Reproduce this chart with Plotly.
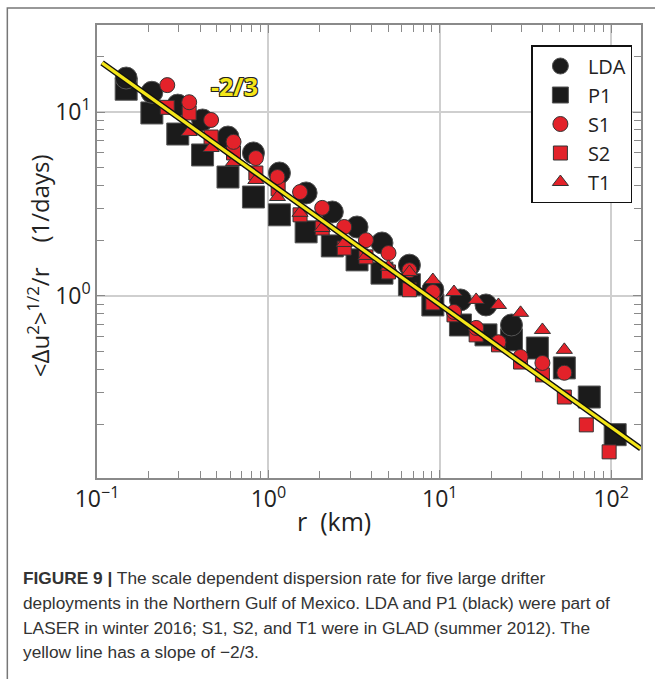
import plotly.graph_objects as go

# ---------------- data ----------------
lda_r = [0.148, 0.209, 0.296, 0.413, 0.581, 0.818, 1.16, 1.66, 2.36, 3.29, 4.60, 6.65, 9.11, 13.2, 18.6, 26.2]
lda_y = [15.3, 12.8, 10.9, 9.05, 7.31, 5.99, 4.66, 3.63, 2.86, 2.37, 1.94, 1.47, 1.08, 0.951, 0.893, 0.695]

p1_r = [0.148, 0.209, 0.296, 0.413, 0.581, 0.818, 1.16, 1.66, 2.36, 3.29, 4.60, 6.65, 9.11, 13.2, 18.6, 26.2, 37.1, 53.3, 74.5, 105.5]
p1_y = [13.3, 9.88, 7.59, 5.84, 4.43, 3.45, 2.76, 2.23, 1.87, 1.57, 1.33, 1.15, 0.893, 0.695, 0.614, 0.577, 0.521, 0.406, 0.282, 0.176]

s1_r = [0.257, 0.345, 0.463, 0.626, 0.845, 1.13, 1.53, 2.06, 2.77, 3.71, 5.02, 6.65, 9.11, 12.1, 16.3, 22.0, 29.6, 39.7, 53.3]
s1_y = [14.0, 11.3, 9.05, 6.88, 5.62, 4.43, 3.67, 3.01, 2.37, 2.01, 1.71, 1.38, 1.05, 0.818, 0.670, 0.56, 0.466, 0.432, 0.382]

s2_r = [0.257, 0.345, 0.463, 0.626, 0.845, 1.14, 1.53, 2.06, 2.77, 3.71, 5.02, 6.65, 9.11, 12.1, 16.3, 22.0, 29.6, 39.7, 53.3, 71.6, 97.3]
s2_y = [10.6, 9.88, 7.31, 5.99, 4.66, 3.82, 2.76, 2.34, 1.82, 1.63, 1.35, 1.08, 0.916, 0.789, 0.614, 0.542, 0.437, 0.372, 0.282, 0.199, 0.142]

t1_r = [0.345, 0.463, 0.626, 0.845, 1.13, 1.53, 2.06, 2.77, 3.71, 5.02, 6.65, 9.11, 12.1, 16.3, 22.0, 29.6, 39.7, 53.3]
t1_y = [7.79, 6.37, 5.35, 4.27, 3.45, 2.83, 2.34, 1.94, 1.65, 1.44, 1.35, 1.22, 1.05, 0.951, 0.893, 0.809, 0.653, 0.509]

# yellow reference line (slope -2/3), end points
line_r = [0.107, 149.0]
line_y = [18.5, 0.148]

tick_vals = [0.1, 1, 10, 100]
x_tick_text = ["10<sup>\u22121</sup>", "10<sup>0</sup>", "10<sup>1</sup>", "10<sup>2</sup>"]
y_tick_vals = [0.1, 1, 10]
y_tick_text = ["10<sup>\u22121</sup>", "10<sup>0</sup>", "10<sup>1</sup>"]

caption_lines = [
    "<b>FIGURE 9 |</b> The scale dependent dispersion rate for five large drifter",
    "deployments in the Northern Gulf of Mexico. LDA and P1 (black) were part of",
    "LASER in winter 2016; S1, S2, and T1 were in GLAD (summer 2012). The",
    "yellow line has a slope of \u22122/3.",
]

# ---------------- styling ----------------
BLACK = "#1b1b1b"
RED = "#e3222a"
EDGE = "#333333"
FONT = "Open Sans"

fig = go.Figure()

fig.add_trace(go.Scatter(x=p1_r, y=p1_y, mode="markers", name="P1", legendrank=2,
                         marker=dict(symbol="square", size=22, color=BLACK, line=dict(color="#555", width=1))))
fig.add_trace(go.Scatter(x=lda_r, y=lda_y, mode="markers", name="LDA", legendrank=1,
                         marker=dict(symbol="circle", size=22, color=BLACK, line=dict(color="#555", width=1))))
fig.add_trace(go.Scatter(x=s2_r, y=s2_y, mode="markers", name="S2", legendrank=4,
                         marker=dict(symbol="square", size=14, color=RED, line=dict(color=EDGE, width=1))))
fig.add_trace(go.Scatter(x=s1_r, y=s1_y, mode="markers", name="S1", legendrank=3,
                         marker=dict(symbol="circle", size=15, color=RED, line=dict(color=EDGE, width=1))))
fig.add_trace(go.Scatter(x=t1_r, y=t1_y, mode="markers", name="T1", legendrank=5,
                         marker=dict(symbol="triangle-up", size=14, color=RED, line=dict(color=EDGE, width=1))))

fig.add_trace(go.Scatter(x=line_r, y=line_y, mode="lines", showlegend=False,
                         line=dict(color="#111", width=6)))
fig.add_trace(go.Scatter(x=line_r, y=line_y, mode="lines", showlegend=False,
                         line=dict(color="#f4e619", width=3.2)))

minor_vals = [m * 10 ** e for e in range(-1, 3) for m in range(2, 10)]

axis_common = dict(
    type="log",
    showline=True, linecolor="#8a8a8a", linewidth=1.5, mirror="ticks",
    showgrid=True, gridcolor="#cfcfcf", gridwidth=1.5,
    ticks="inside", ticklen=8, tickcolor="#8a8a8a", tickwidth=1,
    tickfont=dict(family=FONT, size=23, color="#222"),
    minor=dict(tickvals=minor_vals, ticks="inside", ticklen=7, tickcolor="#8a8a8a", tickwidth=1, showgrid=False),
    zeroline=False,
)

fig.update_xaxes(range=[-1, 2.174], tickvals=tick_vals, ticktext=x_tick_text, **axis_common)
fig.update_yaxes(range=[-0.99, 1.473], tickvals=y_tick_vals, ticktext=y_tick_text, **axis_common)

W, H = 655, 679
L, R, T, B = 97, 12, 25, 201
pw, ph = W - L - R, H - T - B


def px(x):
    return (x - L) / pw


def py(y):
    return (H - B - y) / ph


annotations = [
    dict(x=px(335), y=py(521), xref="paper", yref="paper", text="r  (km)", showarrow=False,
         font=dict(family=FONT, size=25, color="#222"), xanchor="center", yanchor="middle"),
    dict(x=px(38), y=py(266), xref="paper", yref="paper",
         text="<\u0394u<sup>2</sup>><sup>1/2</sup>/r    (1/days)", showarrow=False, textangle=-90,
         font=dict(family=FONT, size=24, color="#222"), xanchor="center", yanchor="middle"),
    dict(x=-0.198, y=1.141, xref="x", yref="y", text="<b>-2/3</b>", showarrow=False,
         font=dict(family=FONT, size=25, color="#f4e619",
                   shadow="-1px -1px 0 #222, 1px -1px 0 #222, -1px 1px 0 #222, 1px 1px 0 #222"),
         xanchor="center", yanchor="middle"),
]
cap_y = [578, 603, 628, 652]
for txt, yy in zip(caption_lines, cap_y):
    annotations.append(dict(x=px(21), y=py(yy), xref="paper", yref="paper", text=txt, showarrow=False,
                            xanchor="left", yanchor="middle", align="left",
                            font=dict(family="Liberation Sans", size=17.3, color="#333")))

shapes = [
    dict(type="rect", xref="paper", yref="paper", x0=px(7), x1=px(700), y0=py(8), y1=py(720),
         line=dict(color="#777", width=1.5), fillcolor="rgba(0,0,0,0)", layer="below"),
]

fig.update_layout(
    width=W, height=H,
    margin=dict(l=L, r=R, t=T, b=B),
    paper_bgcolor="white", plot_bgcolor="white",
    showlegend=True,
    legend=dict(x=px(533), y=py(45), xanchor="left", yanchor="top",
                bgcolor="white", bordercolor="#111", borderwidth=1.5,
                font=dict(family=FONT, size=20, color="#222"),
                itemsizing="trace", itemwidth=45, tracegroupgap=2),
    annotations=annotations,
    shapes=shapes,
)

fig.write_html("out.html")
